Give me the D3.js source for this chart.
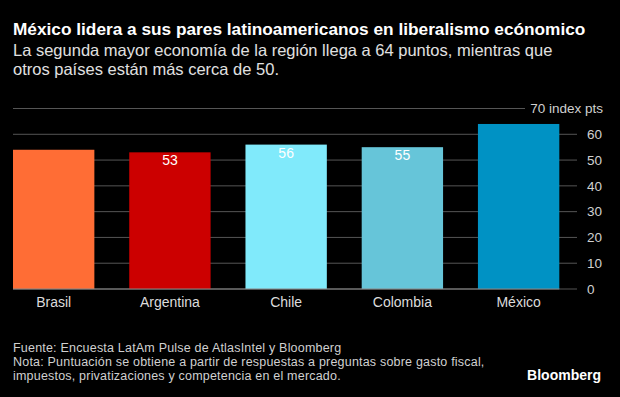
<!DOCTYPE html>
<html>
<head>
<meta charset="utf-8">
<script src="https://cdn.jsdelivr.net/npm/d3@7"></script>
<style>
  html, body { margin: 0; padding: 0; background: #000; }
  svg { display: block; font-family: 'Liberation Sans', Arial, sans-serif; }
</style>
</head>
<body>
<div id="chart"></div>
<script>
const categories = ['Brasil', 'Argentina', 'Chile', 'Colombia', 'México'];
const values = [54, 53, 56, 55, 64];
const valueLabels = ['', '53', '56', '55', ''];
const colors = ['#ff6d35', '#cc0000', '#80eafb', '#66c5d9', '#0092c4'];
const ticks = [0, 10, 20, 30, 40, 50, 60, 70];

const title = 'México lidera a sus pares latinoamericanos en liberalismo ecónomico';
const subtitle = ['La segunda mayor economía de la región llega a 64 puntos, mientras que', 'otros países están más cerca de 50.'];
const notes = [
  'Fuente: Encuesta LatAm Pulse de AtlasIntel y Bloomberg',
  'Nota: Puntuación se obtiene a partir de respuestas a preguntas sobre gasto fiscal,',
  'impuestos, privatizaciones y competencia en el mercado.'
];

const width = 620;
const height = 397;
const left = 13;
const gridRight = 577;

const svg = d3.select('#chart').append('svg').attr('width', width).attr('height', height);
svg.append('rect').attr('width', width).attr('height', height).attr('fill', '#000');

// header
svg.append('text').attr('x', left).attr('y', 35).attr('fill', '#fff').attr('font-size', 17.25).attr('font-weight', 'bold').text(title);
svg.selectAll('text.sub').data(subtitle).enter().append('text').attr('class', 'sub')
  .attr('x', left).attr('y', (d, i) => 55.5 + i * 19)
  .attr('fill', '#e0e0e0').attr('font-size', 16.5).text((d) => d);

const x = d3.scaleBand().domain(categories).range([left, 559.3]).paddingInner(0.3).paddingOuter(0);
const y = d3.scaleLinear().domain([0, 70]).range([289, 108.5]);

// grid lines
const grid = svg.append('g');
grid.selectAll('line').data(ticks).enter().append('line')
  .attr('x1', left)
  .attr('x2', (d) => (d === 70 ? 525 : gridRight))
  .attr('y1', (d) => y(d)).attr('y2', (d) => y(d))
  .attr('stroke', '#555').attr('stroke-width', 1);

// tick labels
svg.selectAll('text.tick').data(ticks).enter().append('text').attr('class', 'tick')
  .attr('x', (d) => (d === 70 ? 603 : 587))
  .attr('y', (d) => y(d)).attr('dy', '0.35em')
  .attr('text-anchor', (d) => (d === 70 ? 'end' : 'start'))
  .attr('fill', '#d0d0d0').attr('font-size', 13.5)
  .text((d) => (d === 70 ? '70 index pts' : d));

// bars
svg.selectAll('rect.bar').data(values).enter().append('rect').attr('class', 'bar')
  .attr('x', (d, i) => x(categories[i]))
  .attr('y', (d) => y(d))
  .attr('width', x.bandwidth())
  .attr('height', (d) => y(0) - y(d))
  .attr('fill', (d, i) => colors[i]);

// baseline
svg.append('line').attr('x1', left).attr('x2', x(categories[4]) + x.bandwidth())
  .attr('y1', y(0)).attr('y2', y(0)).attr('stroke', '#888').attr('stroke-width', 1);

// value labels
svg.selectAll('text.val').data(values).enter().append('text').attr('class', 'val')
  .attr('x', (d, i) => x(categories[i]) + x.bandwidth() / 2)
  .attr('y', (d) => y(d) + 13)
  .attr('text-anchor', 'middle').attr('fill', '#fff').attr('font-size', 14)
  .text((d, i) => valueLabels[i]);

// category labels
svg.selectAll('text.cat').data(categories).enter().append('text').attr('class', 'cat')
  .attr('x', (d) => x(d) + x.bandwidth() / 2)
  .attr('y', 307)
  .attr('text-anchor', 'middle').attr('fill', '#dcdcdc').attr('font-size', 14)
  .text((d) => d);

// footer
svg.selectAll('text.note').data(notes).enter().append('text').attr('class', 'note')
  .attr('x', left).attr('y', (d, i) => 352 + i * 14)
  .attr('fill', '#d0d0d0').attr('font-size', 12.5).attr('letter-spacing', 0.2)
  .text((d) => d);

svg.append('text').attr('x', 601).attr('y', 380).attr('text-anchor', 'end')
  .attr('fill', '#fff').attr('font-size', 14).attr('font-weight', 'bold').text('Bloomberg');
</script>
</body>
</html>
